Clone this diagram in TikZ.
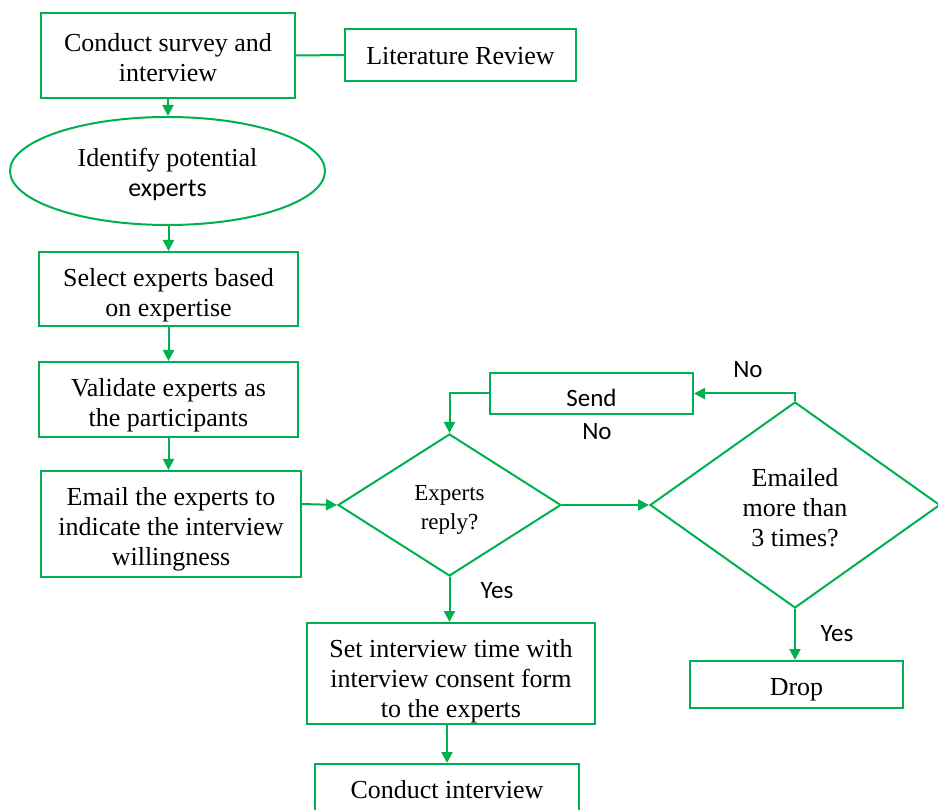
\documentclass[tikz,border=0pt]{standalone}
\usepackage{fontspec}
\setmainfont{Liberation Serif}
\newfontfamily\lblfont{Carlito}
\usetikzlibrary{shapes.geometric,arrows.meta}
\definecolor{fgreen}{RGB}{0,176,80}
\newcommand\txlow[2]{\raisebox{-#1}[\height][\depth]{\begin{tabular}{@{}c@{}}#2\end{tabular}}}
\tikzset{
  box/.style={draw=fgreen, line width=2pt, rectangle, inner sep=0pt, font=\fontsize{26}{30}\selectfont},
  oval/.style={draw=fgreen, line width=2pt, ellipse, inner sep=0pt, font=\fontsize{26}{30}\selectfont},
  dia/.style={draw=fgreen, line width=2pt, diamond, inner sep=0pt},
  conn/.style={draw=fgreen, line width=2pt},
  arr/.style={conn, -{Triangle[length=11pt,width=11pt]}},
  lbl/.style={font=\lblfont\fontsize{25}{28}\selectfont, inner sep=0pt}
}
\begin{document}
\begin{tikzpicture}[x=1pt,y=-1pt]
\clip (0,0) rectangle (938,810);
\fill[white] (0,0) rectangle (938,810);
% nodes
\node[box, minimum width=254pt, minimum height=85pt] (A) at (168,55.5) {\txlow{5pt}{Conduct survey and\\interview}};
\node[box, minimum width=231pt, minimum height=52pt] (B) at (460.5,55) {\txlow{4pt}{Literature Review}};
\node[oval, minimum width=315pt, minimum height=108pt] (Ell) at (167.5,171) {\txlow{5pt}{Identify potential\\{\lblfont experts}}};
\node[box, minimum width=259pt, minimum height=74pt] (C) at (168.5,289) {\txlow{7pt}{Select experts based\\on expertise}};
\node[box, minimum width=259pt, minimum height=75pt] (D) at (168.5,399.5) {\txlow{6pt}{Validate experts as\\the participants}};
\node[box, minimum width=260pt, minimum height=106pt] (E) at (171,524) {\txlow{5pt}{Email the experts to\\indicate the interview\\willingness}};
\node[dia, minimum width=223pt, minimum height=142pt, font=\fontsize{23}{29}\selectfont] (D1) at (449.5,505) {\txlow{4pt}{Experts\\reply?}};
\node[dia, minimum width=290pt, minimum height=206pt, font=\fontsize{26}{30}\selectfont] (D2) at (795,505) {\txlow{5pt}{Emailed\\more than\\3 times?}};
\node[box, minimum width=203pt, minimum height=41pt, font=\lblfont\fontsize{25}{28}\selectfont] (Send) at (591.5,393.5) {\raisebox{-6pt}[0.55em][0pt]{Send}};
\node[box, minimum width=288pt, minimum height=101pt] (F) at (451,673.5) {\txlow{8pt}{Set interview time with\\interview consent form\\to the experts}};
\node[box, minimum width=264pt, minimum height=52pt] (G) at (447,790) {\txlow{2pt}{Conduct interview}};
\node[box, minimum width=213pt, minimum height=47pt] (Drop) at (796.5,684.5) {\txlow{5pt}{Drop}};
% labels
\node[lbl] (no1) at (748,370) {No};
\node[lbl] (no2) at (597,432) {No};
\node[lbl] (yes1) at (497,591) {Yes};
\node[lbl] (yes2) at (837,634) {Yes};
% connectors
\draw[conn] (A.east) -- (B.west);
\draw[arr] (A.south) -- (A.south |- Ell.north);
\draw[arr] (C.north |- Ell.south) -- (C.north);
\draw[arr] (C.south) -- (C.south |- D.north);
\draw[arr] (D.south) -- (D.south |- E.north);
\draw[arr] ([yshift=20pt]E.east) -- (D1.west);
\draw[arr] (D1.east) -- (D2.west);
\draw[arr] (D2.north) |- (Send.east);
\draw[arr] (Send.west) -| (D1.north);
\draw[arr] (D1.south) -- (D1.south |- F.north);
\draw[arr] (G.north |- F.south) -- (G.north);
\draw[arr] (D2.south) -- (D2.south |- Drop.north);
\end{tikzpicture}
\end{document}
